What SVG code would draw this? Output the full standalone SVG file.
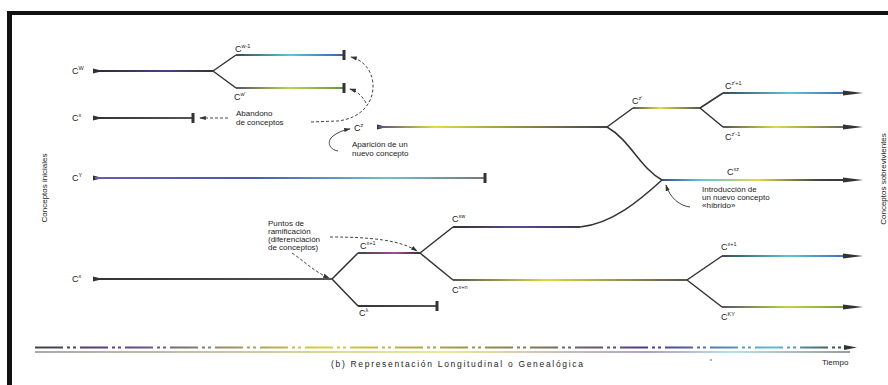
<svg xmlns="http://www.w3.org/2000/svg" width="888" height="385" viewBox="0 0 888 385">
<defs>
<style>
.t{font-family:"Liberation Sans",Arial,sans-serif;font-size:8px;fill:#222}
.lb{font-family:"Liberation Sans",Arial,sans-serif;font-size:9px;fill:#222}
.sp{font-size:5.5px}
.br{stroke:#333;stroke-width:1.5;fill:none}
.bar{stroke:#333;stroke-width:3;fill:none}
.dash{stroke:#444;stroke-width:1;fill:none;stroke-dasharray:3 2}
.cv{stroke:#444;stroke-width:1;fill:none}
</style>
<marker id="sh" viewBox="0 0 8 6" refX="7" refY="3" markerWidth="7" markerHeight="5" markerUnits="userSpaceOnUse" orient="auto"><path d="M0,0.5 L8,3 L0,5.5 Z" fill="#333"/></marker>
<linearGradient id="gW" x1="0" x2="1" y1="0" y2="0"><stop offset="0" stop-color="#2a2a3a"/><stop offset="0.6" stop-color="#4a3f8a"/><stop offset="1" stop-color="#333"/></linearGradient>
<linearGradient id="gC" x1="0" x2="1" y1="0" y2="0"><stop offset="0" stop-color="#3a4a5a"/><stop offset="0.5" stop-color="#5cc6d6"/><stop offset="1" stop-color="#3b5fae"/></linearGradient>
<linearGradient id="gG" x1="0" x2="1" y1="0" y2="0"><stop offset="0" stop-color="#556"/><stop offset="0.5" stop-color="#b9d84c"/><stop offset="1" stop-color="#6f8f3a"/></linearGradient>
<linearGradient id="gD" x1="0" x2="1" y1="0" y2="0"><stop offset="0" stop-color="#333"/><stop offset="1" stop-color="#555"/></linearGradient>
<linearGradient id="gZ" x1="0" x2="1" y1="0" y2="0"><stop offset="0" stop-color="#5a4a8a"/><stop offset="0.25" stop-color="#e4dc3c"/><stop offset="0.6" stop-color="#9a8f48"/><stop offset="1" stop-color="#444"/></linearGradient>
<linearGradient id="gY" x1="0" x2="1" y1="0" y2="0"><stop offset="0" stop-color="#6a5ab4"/><stop offset="0.4" stop-color="#4b58b0"/><stop offset="0.75" stop-color="#6cc2c8"/><stop offset="1" stop-color="#777"/></linearGradient>
<linearGradient id="gZ2" x1="0" x2="1" y1="0" y2="0"><stop offset="0" stop-color="#555"/><stop offset="0.4" stop-color="#e0da40"/><stop offset="1" stop-color="#555"/></linearGradient>
<linearGradient id="gXZ" x1="0" x2="1" y1="0" y2="0"><stop offset="0" stop-color="#3a4a8a"/><stop offset="0.2" stop-color="#5cc6d6"/><stop offset="0.5" stop-color="#e2d848"/><stop offset="0.8" stop-color="#444"/><stop offset="1" stop-color="#333"/></linearGradient>
<linearGradient id="gP" x1="0" x2="1" y1="0" y2="0"><stop offset="0" stop-color="#333"/><stop offset="0.5" stop-color="#5b4a8c"/><stop offset="1" stop-color="#3a3a5a"/></linearGradient>
<linearGradient id="gL" x1="0" x2="1" y1="0" y2="0"><stop offset="0" stop-color="#444"/><stop offset="0.6" stop-color="#a8489a"/><stop offset="1" stop-color="#333"/></linearGradient>
<linearGradient id="gTa" gradientUnits="userSpaceOnUse" x1="35" x2="856" y1="0" y2="0"><stop offset="0" stop-color="#444"/><stop offset="0.1" stop-color="#5a3f8a"/><stop offset="0.35" stop-color="#d8d040"/><stop offset="0.6" stop-color="#8a7a50"/><stop offset="0.75" stop-color="#4a3a8a"/><stop offset="0.9" stop-color="#5cc0d0"/><stop offset="1" stop-color="#333"/></linearGradient>
<linearGradient id="gTb" gradientUnits="userSpaceOnUse" x1="35" x2="856" y1="0" y2="0"><stop offset="0" stop-color="#555"/><stop offset="0.5" stop-color="#d8d040"/><stop offset="0.75" stop-color="#6a3f9a"/><stop offset="0.85" stop-color="#6cc6d0"/><stop offset="1" stop-color="#333"/></linearGradient>
</defs>
<rect x="0" y="0" width="888" height="385" fill="#fff"/>
<g id="frame">
<rect x="7" y="11" width="881" height="4" fill="#111"/>
<rect x="7" y="11" width="5" height="374" fill="#111"/>
</g>

<g id="axis-labels">
<text class="t" transform="translate(47,188) rotate(-90)" text-anchor="middle">Conceptos iniciales</text>
<text class="t" transform="translate(886,179) rotate(-90)" text-anchor="middle">Conceptos sobrevivientes</text>
</g>

<g id="connectors">
<path class="br" d="M213,71 L236,55 M213,71 L236,88"/>
<path class="br" d="M607,127 L633,108 M700,108 L723,93 M700,108 L723,127"/>
<path class="br" d="M332,279 L358,253 M332,279 L358,306 M420,253 L453,227 M420,253 L453,280 M687,280 L722,256 M687,280 L722,307"/>
<path class="br" d="M607,127 C630,140 640,168 662,180 M580,227 C612,224 640,200 662,180"/>
<path class="dash" d="M228,118 L200,118" marker-end="url(#sh)"/>
<path class="dash" d="M311,122 L338,121 C362,118 374,102 373,84 C372,70 363,60 351,57" marker-end="url(#sh)"/>
<path class="dash" d="M366,103 C362,95 356,91 350,89" marker-end="url(#sh)"/>
<path class="cv" d="M338,151 C328,149 327,141 333,136 C338,132 344,130 350,129" marker-end="url(#sh)"/>
<path class="cv" d="M690,207 C680,206 670,198 666,185" marker-end="url(#sh)"/>
<path class="dash" d="M330,237 C370,237 400,240 417,251" marker-end="url(#sh)"/>
<path class="dash" d="M292,253 C305,262 315,272 329,278" marker-end="url(#sh)"/>
</g>

<g id="node-cw">
<text class="lb" x="72" y="74">C<tspan class="sp" dy="-4">W</tspan></text>
<path d="M93,68.5 L103,71 L93,73.5 Z" fill="#333"/>
<rect x="95" y="70" width="118" height="2" fill="url(#gW)"/>
</g>
<g id="node-cw1">
<text class="lb" x="235" y="52">C<tspan class="sp" dy="-4">w-1</tspan></text>
<rect x="236" y="54" width="108" height="2" fill="url(#gC)"/>
<path class="bar" d="M344,50 V60"/>
</g>
<g id="node-cw2">
<text class="lb" x="234" y="100">C<tspan class="sp" dy="-4">w'</tspan></text>
<rect x="236" y="87" width="108" height="2" fill="url(#gG)"/>
<path class="bar" d="M344,83 V93"/>
</g>
<g id="node-cx">
<text class="lb" x="72" y="121">C<tspan class="sp" dy="-4">x</tspan></text>
<path d="M93,115.5 L103,118 L93,120.5 Z" fill="#333"/>
<rect x="95" y="117" width="98" height="2" fill="url(#gD)"/>
<path class="bar" d="M193,113 V123"/>
</g>
<g id="note-abandono">
<text class="t" x="236" y="116">Abandono</text>
<text class="t" x="236" y="125">de conceptos</text>
</g>
<g id="node-cz">
<text class="lb" x="354" y="131">C<tspan class="sp" dy="-4">z</tspan></text>
<path d="M377,124.5 L387,127 L377,129.5 Z" fill="#333"/>
<rect x="378" y="126" width="229" height="2" fill="url(#gZ)"/>
</g>
<g id="note-aparicion">
<text class="t" x="352" y="147">Aparición de un</text>
<text class="t" x="352" y="156">nuevo concepto</text>
</g>
<g id="node-cz1">
<text class="lb" x="632" y="104">C<tspan class="sp" dy="-4">z'</tspan></text>
<rect x="633" y="107" width="67" height="2" fill="url(#gZ2)"/>
</g>
<g id="node-cz2">
<text class="lb" x="725" y="89">C<tspan class="sp" dy="-4">z'+1</tspan></text>
<rect x="723" y="92" width="132" height="2" fill="url(#gC)"/>
<path d="M843,90.5 L863,93 L843,95.5 Z" fill="#333"/>
</g>
<g id="node-cz3">
<text class="lb" x="725" y="140">C<tspan class="sp" dy="-4">z'-1</tspan></text>
<rect x="723" y="126" width="132" height="2" fill="url(#gZ2)"/>
<path d="M843,124.5 L863,127 L843,129.5 Z" fill="#333"/>
</g>
<g id="node-cxz">
<text class="lb" x="727" y="175">C<tspan class="sp" dy="-4">xz</tspan></text>
<rect x="662" y="179" width="193" height="2" fill="url(#gXZ)"/>
<path d="M843,177.5 L863,180 L843,182.5 Z" fill="#333"/>
</g>
<g id="note-hibrido">
<text class="t" x="702" y="192">Introducción de</text>
<text class="t" x="702" y="200">un nuevo concepto</text>
<text class="t" x="702" y="208">«híbrido»</text>
</g>
<g id="node-cy">
<text class="lb" x="72" y="181">C<tspan class="sp" dy="-4">Y</tspan></text>
<path d="M93,175.5 L103,178 L93,180.5 Z" fill="#333"/>
<rect x="95" y="177" width="390" height="2" fill="url(#gY)"/>
<path class="bar" d="M485,173 V183"/>
</g>
<g id="note-puntos">
<text class="t" x="268" y="226">Puntos de</text>
<text class="t" x="268" y="234">ramificación</text>
<text class="t" x="268" y="242">(diferenciación</text>
<text class="t" x="268" y="250">de conceptos)</text>
</g>
<g id="node-cx2">
<text class="lb" x="72" y="282">C<tspan class="sp" dy="-4">x</tspan></text>
<path d="M93,276.5 L103,279 L93,281.5 Z" fill="#333"/>
<rect x="95" y="278" width="237" height="2" fill="url(#gD)"/>
</g>
<g id="node-cx3">
<text class="lb" x="360" y="249">C<tspan class="sp" dy="-4">x+1</tspan></text>
<rect x="358" y="252" width="62" height="2" fill="url(#gL)"/>
</g>
<g id="node-cl">
<text class="lb" x="359" y="316">C<tspan class="sp" dy="-4">λ</tspan></text>
<rect x="358" y="305" width="79" height="2" fill="url(#gD)"/>
<path class="bar" d="M437,301 V311"/>
</g>
<g id="node-cxw">
<text class="lb" x="452" y="222">C<tspan class="sp" dy="-4">xw</tspan></text>
<rect x="453" y="226" width="127" height="2" fill="url(#gP)"/>
</g>
<g id="node-cxn">
<text class="lb" x="452" y="293">C<tspan class="sp" dy="-4">x+n</tspan></text>
<rect x="453" y="279" width="234" height="2" fill="url(#gZ2)"/>
</g>
<g id="node-cxy">
<text class="lb" x="721" y="250">C<tspan class="sp" dy="-4">x+1</tspan></text>
<rect x="722" y="255" width="133" height="2" fill="url(#gC)"/>
<path d="M843,253.5 L863,256 L843,258.5 Z" fill="#333"/>
</g>
<g id="node-cky">
<text class="lb" x="721" y="320">C<tspan class="sp" dy="-4">KY</tspan></text>
<rect x="722" y="306" width="133" height="2" fill="url(#gG)"/>
<path d="M843,304.5 L863,307 L843,309.5 Z" fill="#333"/>
</g>

<g id="time-axis">
<path d="M35,347.5 L846,347.5" stroke="url(#gTa)" stroke-width="1.8" stroke-dasharray="28 4 3 3 3 4" fill="none"/>
<path d="M35,352 L850,352" stroke="url(#gTb)" stroke-width="1.2" fill="none"/>
<path d="M844,345 L857,347.5 L844,350 Z" fill="#333"/>
<text class="t" x="822" y="365">Tiempo</text>
<text class="t" x="331" y="367" style="font-size:8.5px" textLength="252" lengthAdjust="spacing">(b)  Representación Longitudinal o Genealógica</text>
<circle cx="711" cy="360" r="0.8" fill="#444"/>
</g>
</svg>
